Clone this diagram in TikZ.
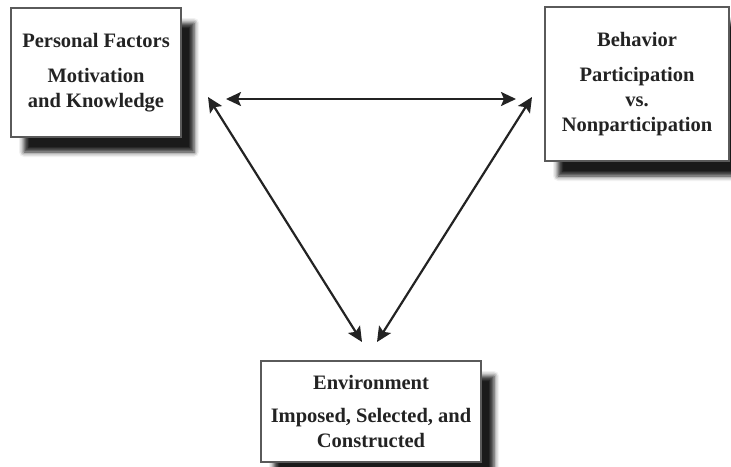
\documentclass[tikz,border=0pt]{standalone}
\usepackage{fontspec}
\setmainfont{Liberation Serif}
\usepackage{tikz}
\usetikzlibrary{arrows.meta,shadows.blur}
\definecolor{ink}{RGB}{35,35,35}
\definecolor{frame}{RGB}{90,90,90}

\begin{document}
\begin{tikzpicture}[
    x=1pt, y=-1pt,
    factor/.style={draw=frame, line width=1.2pt, fill=white, align=center, inner sep=0pt,
        text=ink, font=\fontsize{20.5}{25}\selectfont\bfseries,
        blur shadow={shadow xshift=13pt, shadow yshift=-15pt, shadow blur radius=5pt, shadow opacity=90}},
    link/.style={{Stealth[length=15pt,width=14pt,inset=3pt]}-{Stealth[length=15pt,width=14pt,inset=3pt]}, line width=2.2pt, color=ink}
]
    \useasboundingbox (0,0) rectangle (731,466);

    % Personal factors
    \node[factor, minimum width=170pt, minimum height=129pt] (person) at (96,72.5)
        {Personal Factors\\[10pt]Motivation\\and Knowledge};

    % Behavior
    \node[factor, minimum width=184pt, minimum height=154pt] (behav) at (637,84)
        {Behavior\\[10pt]Participation\\vs.\\Nonparticipation};

    % Environment
    \node[factor, minimum width=220pt, minimum height=101pt] (envir) at (371,411.5)
        {Environment\\[8pt]Imposed, Selected, and\\Constructed};

    % Arrow ends
    \coordinate (personR) at (226,99);
    \coordinate (personD) at (208,97);
    \coordinate (behavL) at (516,99);
    \coordinate (behavD) at (532,97);
    \coordinate (envirL) at (362,342);
    \coordinate (envirR) at (377,342);

    % Arrows
    \draw[link] (personR) -- (behavL);
    \draw[link] (personD) -- (envirL);
    \draw[link] (behavD) -- (envirR);
\end{tikzpicture}
\end{document}
